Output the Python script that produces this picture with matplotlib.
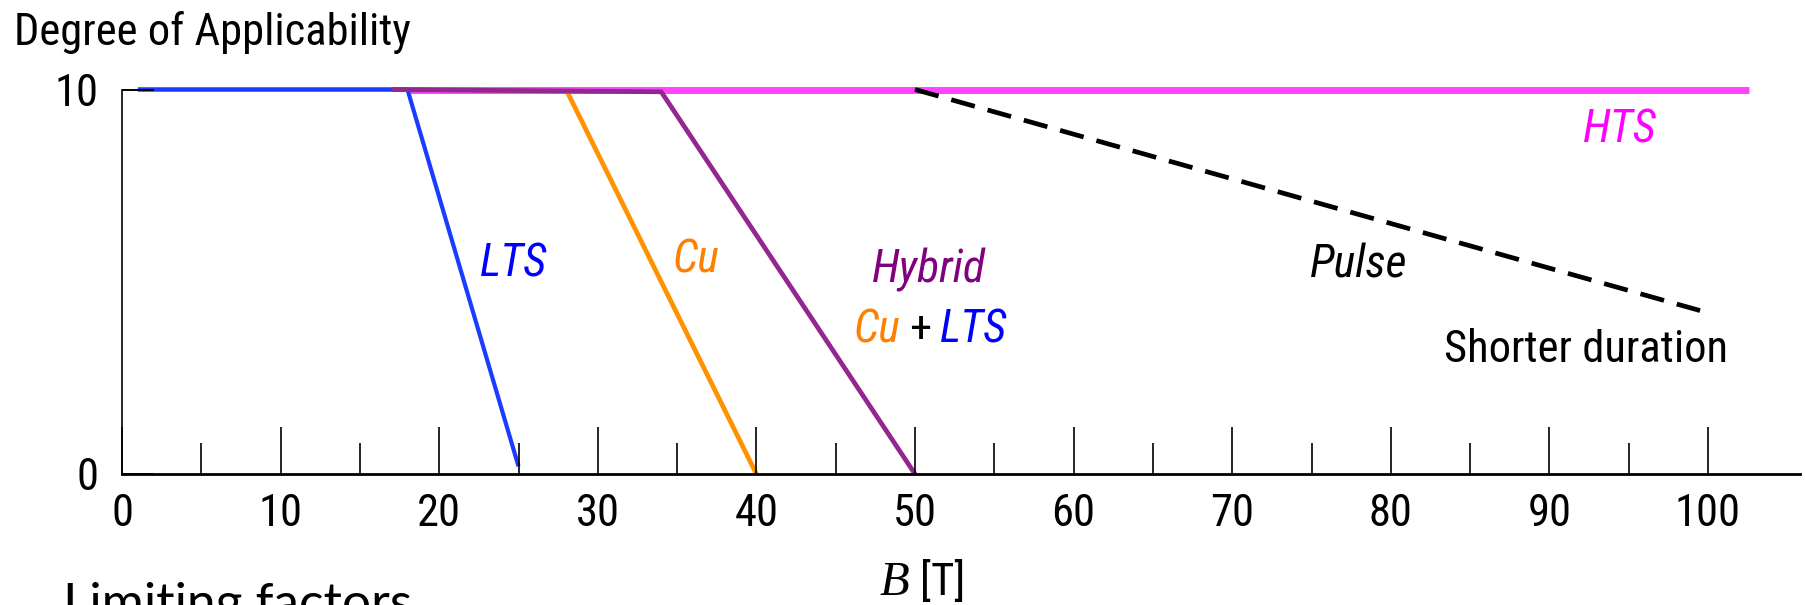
import matplotlib
matplotlib.use("Agg")
import matplotlib.pyplot as plt
from matplotlib import font_manager
from matplotlib.ticker import FixedLocator

# --- data -------------------------------------------------------------
lts_b = [1, 18, 25]
lts_deg = [10, 10, 0.2]

cu_b = [1, 28, 40]
cu_deg = [10, 10, 0]

hybrid_b = [17, 34, 50]
hybrid_deg = [10, 9.94, 0]

hts_b = [18, 102.6]
hts_deg = [10, 10]

pulse_b = [50, 99.5]
pulse_deg = [10, 4.25]

x_ticks = [0, 10, 20, 30, 40, 50, 60, 70, 80, 90, 100]
x_minor = [5, 15, 25, 35, 45, 55, 65, 75, 85, 95]
y_ticks = [0, 10]

# --- fonts ------------------------------------------------------------
installed = {f.name for f in font_manager.fontManager.ttflist}
SANS = "Liberation Sans"
for cand in ("Liberation Sans Narrow", "Roboto Condensed"):
    if cand in installed:
        SANS = cand
        break
SERIF = "Liberation Serif"
plt.rcParams["font.family"] = [SANS, "DejaVu Sans"]

FS = 32   # upright labels (pt)
FSI = 33  # italic labels (pt)

# --- figure -----------------------------------------------------------
W, H = 1805, 605
fig = plt.figure(figsize=(W / 100, H / 100), dpi=100)

x0_px, x_end_px = 122, 1800
y0_px, y10_px = 474, 89.5
px_per_unit = 15.86
ax = fig.add_axes([x0_px / W, 1 - y0_px / H,
                   (x_end_px - x0_px) / W, (y0_px - y10_px) / H])
ax.set_xlim(0, (x_end_px - x0_px) / px_per_unit)
ax.set_ylim(0, 10)

for s in ("top", "right"):
    ax.spines[s].set_visible(False)
ax.spines["bottom"].set_linewidth(2.0)
ax.spines["left"].set_linewidth(1.2)
ax.set_axisbelow(False)

ax.xaxis.set_major_locator(FixedLocator(x_ticks))
ax.xaxis.set_minor_locator(FixedLocator(x_minor))
ax.yaxis.set_major_locator(FixedLocator(y_ticks))
ax.tick_params(axis="x", which="major", direction="in", length=34, width=1.2,
               pad=14, labelsize=FS)
ax.tick_params(axis="x", which="minor", direction="in", length=22, width=1.2)
ax.tick_params(axis="y", which="major", direction="in", length=23, width=1.4,
               pad=17, labelsize=FS)

# --- lines ------------------------------------------------------------
common = dict(clip_on=False, solid_capstyle="butt", solid_joinstyle="miter")
ax.plot(cu_b, cu_deg, color="#ff9200", lw=3.4, zorder=1.0, **common)
ax.plot(hts_b, hts_deg, color="#ff44ff", lw=5.0, zorder=1.1, **common)
ax.plot(lts_b, lts_deg, color="#1a3cff", lw=3.0, zorder=1.2, **common)
ax.plot(hybrid_b, hybrid_deg, color="#93278f", lw=3.4, zorder=1.3, **common)
ax.plot(pulse_b, pulse_deg, color="black", lw=3.4, dashes=(5.18, 2.80),
        dash_capstyle="butt", zorder=1.4, clip_on=False)

# --- annotations ------------------------------------------------------
it = dict(fontsize=FSI, fontstyle="italic")
ax.text(24.7, 5.46, "LTS", color="#0000ff", ha="center", va="center", **it)
ax.text(36.2, 5.57, "Cu", color="#ff8000", ha="center", va="center", **it)
ax.text(50.9, 4.97, "Hybrid", color="#800080", ha="center", va="baseline", **it)
ax.text(49.05, 3.43, "Cu", color="#ff8000", ha="right", va="baseline", **it)
ax.text(50.3, 3.43, "+", color="black", ha="center", va="baseline", fontsize=FS)
ax.text(51.6, 3.43, "LTS", color="#0000ff", ha="left", va="baseline", **it)
ax.text(78.0, 5.12, "Pulse", color="black", ha="center", va="baseline", **it)
ax.text(94.45, 8.61, "HTS", color="#ff00ff", ha="center", va="baseline", **it)
ax.text(92.3, 2.91, "Shorter duration", color="black", ha="center",
        va="baseline", fontsize=FS)

# --- titles -----------------------------------------------------------
fig.text(14 / W, 1 - 45 / H, "Degree of Applicability", fontsize=FS,
         ha="left", va="baseline")
fig.text(880 / W, 1 - 595 / H, "B", family=SERIF, fontstyle="italic",
         fontsize=35, ha="left", va="baseline")
fig.text(920 / W, 1 - 595 / H, "[T]", fontsize=FS, ha="left", va="baseline")
fig.text(63 / W, 1 - 619 / H, "Limiting factors", family=["Lato", "DejaVu Sans"],
         fontsize=37, ha="left", va="baseline")

fig.savefig("out.png", dpi=100)
